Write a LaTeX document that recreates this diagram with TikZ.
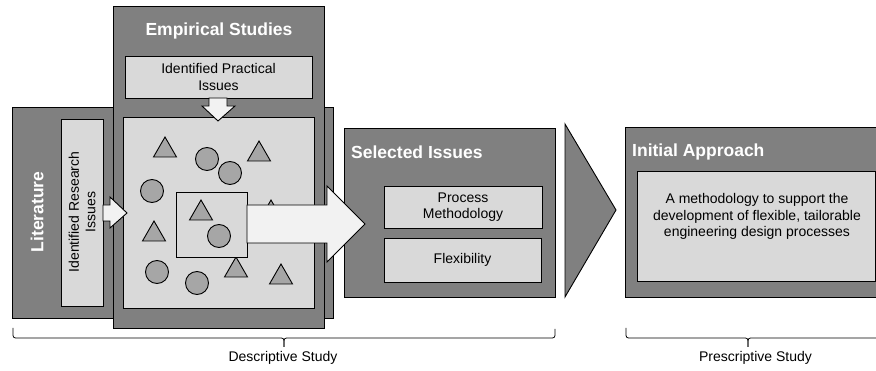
\documentclass[tikz,border=0pt]{standalone}
\usepackage{fontspec}
\setmainfont{Liberation Sans}
\definecolor{dk}{HTML}{808080}
\definecolor{lt}{HTML}{D9D9D9}
\definecolor{sh}{HTML}{A6A6A6}
\definecolor{arrowc}{HTML}{F2F2F2}
\tikzset{
  box/.style={draw=black, line width=0.9pt, anchor=north west, inner sep=0pt, outer sep=0pt},
  dark/.style={box, fill=dk},
  lite/.style={box, fill=lt},
  title/.style={text=white, font=\bfseries\fontsize{17.5}{20}\selectfont, inner sep=0pt},
  lbl/.style={font=\fontsize{14}{16.5}\selectfont, align=center, inner sep=0pt},
  blk/.style={draw=black, line width=0.9pt, fill=arrowc, line join=miter},
  shp/.style={draw=black, line width=0.9pt, fill=sh},
  circ/.style={shp, circle, minimum size=23pt, inner sep=0pt},
  tri/.pic={\draw[shp] (0,0)--(-11.5,20)--(11.5,20)--cycle;},
  bracepath/.style={draw=black, line width=0.8pt, rounded corners=2.5pt},
}
\begin{document}
\begin{tikzpicture}[x=1pt,y=-1pt]
\clip (0,0) rectangle (876,371);
% Literature
\node[dark, minimum width=321pt, minimum height=211pt] (lit) at (12,107) {};
\node[title, rotate=90] (littitle) at (37,212) {Literature};
\node[lite, minimum width=42pt, minimum height=187pt] (res) at (61,119) {};
\node[lbl, rotate=90] (restext) at (82,212) {Identified Research\\Issues};
% Empirical studies
\node[dark, minimum width=211pt, minimum height=322pt] (emp) at (113,6) {};
\node[title] (emptitle) at (219,31) {Empirical Studies};
\node[lite, minimum width=187pt, minimum height=42pt] (prac) at (125,56) {};
\node[lbl] (practext) at (218.5,77) {Identified Practical\\Issues};
\node[lite, minimum width=191pt, minimum height=191pt] (inner) at (123,117) {};
% down arrow
\draw[blk] (209,98) -- (209,106) -- (202,106) -- (218,121) -- (235,106) -- (227,106) -- (227,98) -- cycle;
% research arrow
\draw[blk] (103,205) -- (110,205) -- (110,197) -- (127,213) -- (110,228) -- (110,221) -- (103,221) -- cycle;
% shapes
\pic at (165,137) {tri};
\pic at (259,141) {tri};
\pic at (154,221) {tri};
\pic at (236,257) {tri};
\pic at (281,264) {tri};
\pic at (271,200) {tri};
\node[circ] (c1) at (207,159) {};
\node[circ] (c2) at (230,173) {};
\node[circ] (c3) at (152,191) {};
\node[circ] (c5) at (157,272) {};
\node[circ] (c6) at (197,283) {};
% small square
\node[lite, minimum width=71pt, minimum height=65pt] (sq) at (176,192) {};
\pic at (201,200) {tri};
\node[circ] (c4) at (219,236) {};
% Selected issues
\node[dark, minimum width=211pt, minimum height=169pt] (sel) at (344,128) {};
\node[title, anchor=west] (seltitle) at (351,152) {Selected Issues};
\node[lite, minimum width=158pt, minimum height=42pt] (proc) at (384,186) {};
\node[lbl] (proctext) at (463,207) {Process\\Methodology};
\node[lite, minimum width=157pt, minimum height=44pt] (flex) at (384,238) {};
\node[lbl] (flextext) at (462.5,260) {Flexibility};
% big arrow
\draw[blk] (247,205) -- (327,205) -- (327,186) -- (365,224) -- (327,262) -- (327,243) -- (247,243) -- cycle;
% chevron
\draw[draw=black, line width=0.9pt, fill=dk, line join=miter] (565,124) -- (616,210) -- (565,297) -- cycle;
% Initial approach
\node[dark, minimum width=280pt, minimum height=170pt] (init) at (625,127) {};
\node[title, anchor=west] (inittitle) at (632,152) {Initial Approach};
\node[lite, minimum width=238pt, minimum height=110pt] (initin) at (637,171) {};
\node[lbl] (inittext) at (757,216.5) {A methodology to support the\\development of flexible, tailorable\\engineering design processes};
% braces
\coordinate (d1) at (13,328);
\coordinate (dc) at (284,338);
\coordinate (d2) at (555,329);
\draw[bracepath] (d1) -- (13,338) -- (dc) -- (284,347);
\draw[bracepath] (284,347) -- (dc) -- (555,338) -- (d2);
\node[lbl] (desc) at (283,358) {Descriptive Study};
\coordinate (p1) at (626,328);
\coordinate (pc) at (748,338);
\draw[bracepath] (p1) -- (626,338) -- (pc) -- (748,347);
\draw[bracepath] (748,347) -- (pc) -- (890,338) -- (890,328);
\node[lbl] (presc) at (755.5,358) {Prescriptive Study};
\end{tikzpicture}
\end{document}
